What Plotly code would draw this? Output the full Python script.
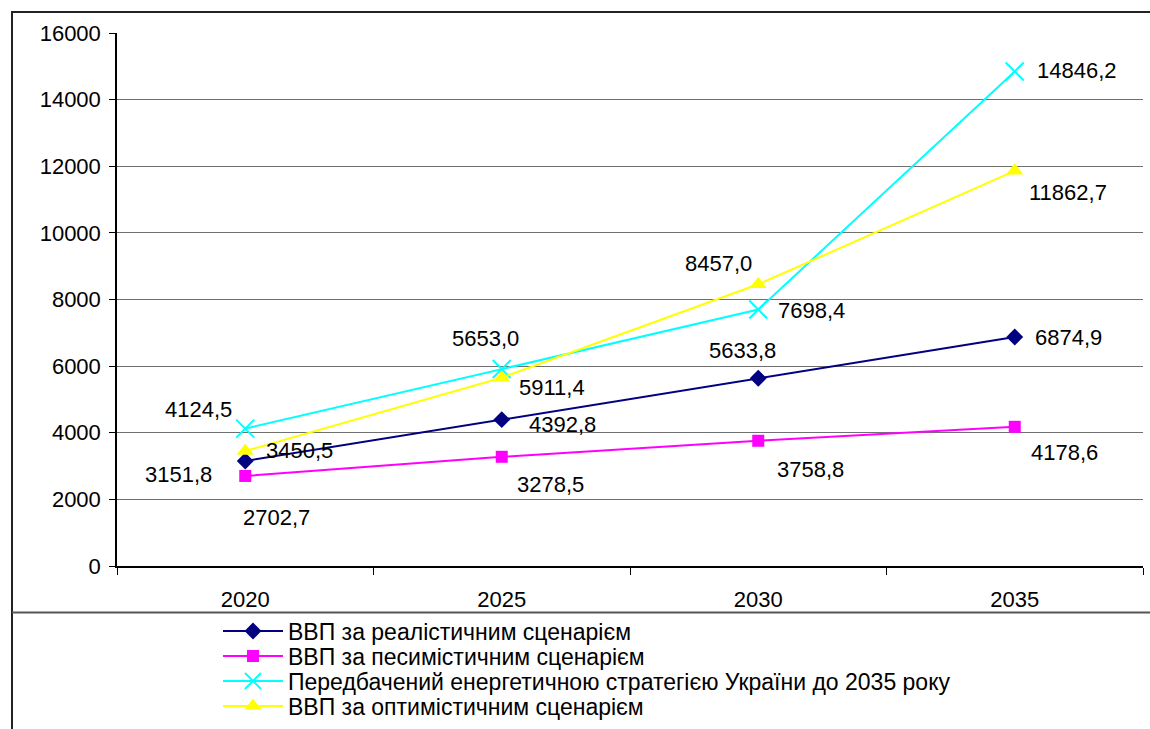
import plotly.graph_objects as go

# ---- data ----
years = ["2020", "2025", "2030", "2035"]
realistic = [3151.8, 4392.8, 5633.8, 6874.9]
pessimistic = [2702.7, 3278.5, 3758.8, 4178.6]
strategy = [4124.5, 5911.4, 7698.4, 14846.2]
optimistic = [3450.5, 5653.0, 8457.0, 11862.7]

names = [
    "ВВП за реалістичним сценарієм",
    "ВВП за песимістичним сценарієм",
    "Передбачений енергетичною стратегією України до 2035 року",
    "ВВП за оптимістичним сценарієм",
]
y_ticks = [0, 2000, 4000, 6000, 8000, 10000, 12000, 14000, 16000]

# ---- styles ----
FONT = "Liberation Sans, Arial, sans-serif"

series = [
    (realistic, names[0], "#000080", dict(symbol="diamond", size=13, color="#000080")),
    (pessimistic, names[1], "#FF00FF", dict(symbol="square", size=12, color="#FF00FF")),
    (strategy, names[2], "#00FFFF", dict(symbol="x-thin", size=18, color="#00FFFF",
                                          line=dict(color="#00FFFF", width=2))),
    (optimistic, names[3], "#FFFF00", dict(symbol="triangle-up", size=15, color="#FFFF00")),
]

# label pixel offsets (dx right, dy down) relative to the anchor marker
label_offsets = [
    [(-67, 13), (61, 5), (-16, -28), (54, 1)],
    [(31, 42), (49, 28), (52, 29), (50, 26)],
    [(-47, -19), (50, 10), (53, 1), (62, -1)],
    [(54, -1), (-16, -31), (-40, -21), (53, 22)],
]
# in the reference, the 2025 labels of the strategy and optimistic series sit at each other's marker
label_anchor_series = [
    [0, 0, 0, 0],
    [1, 1, 1, 1],
    [2, 3, 2, 2],
    [3, 2, 3, 3],
]

# frame / layout geometry
L, R, T, B = 117, 7, 33, 163
W, H = 1150, 729
pw, ph = W - L - R, H - T - B
def px(x):
    return (x - L) / pw
def py(y):
    return (H - B - y) / ph

legend_rows = [631, 656, 681, 706]

fig = go.Figure()
legend_ids = ["legend", "legend2", "legend3", "legend4"]
for k, (vals, name, color, marker) in enumerate(series):
    fig.add_trace(go.Scatter(
        x=years, y=vals, name=name, mode="lines+markers",
        line=dict(color=color, width=2), marker=marker,
        legend=legend_ids[k],
    ))

all_vals = [realistic, pessimistic, strategy, optimistic]
annotations = []
for si, vals in enumerate(all_vals):
    for i, v in enumerate(vals):
        anchor_vals = all_vals[label_anchor_series[si][i]]
        dx, dy = label_offsets[si][i]
        annotations.append(dict(
            x=i, y=anchor_vals[i], xref="x", yref="y",
            text=f"{v:.1f}".replace(".", ","), showarrow=False,
            xshift=dx, yshift=-dy, xanchor="center", yanchor="middle",
            font=dict(family=FONT, size=22, color="#000000"),
        ))

shapes = [
    dict(type="line", xref="paper", yref="paper", x0=px(12), x1=px(12), y0=py(11), y1=py(735),
         line=dict(color="#222222", width=2)),
    dict(type="line", xref="paper", yref="paper", x0=px(11), x1=px(1160), y0=py(12), y1=py(12),
         line=dict(color="#222222", width=2)),
    dict(type="line", xref="paper", yref="paper", x0=px(12), x1=px(1160), y0=py(612.5), y1=py(612.5),
         line=dict(color="#555555", width=2)),
]

legend_common = dict(
    xanchor="left", yanchor="middle", yref="container",
    font=dict(family=FONT, size=23, color="#000000"),
    bgcolor="rgba(0,0,0,0)", borderwidth=0, itemwidth=60,
)
layout_legends = {}
for k, lid in enumerate(legend_ids):
    layout_legends[lid] = dict(x=px(218), y=1 - legend_rows[k] / H, **legend_common)

fig.update_layout(
    width=W, height=H,
    margin=dict(l=L, r=R, t=T, b=B, pad=0, autoexpand=False),
    paper_bgcolor="white", plot_bgcolor="white",
    font=dict(family=FONT, size=22, color="#000000"),
    showlegend=True,
    annotations=annotations,
    shapes=shapes,
    xaxis=dict(
        type="category", showgrid=False, showline=True, linecolor="#000000", linewidth=1.5,
        ticks="outside", ticklen=7, tickcolor="#000000", tickson="boundaries",
        tickfont=dict(family=FONT, size=22), ticklabelstandoff=13,
        range=[-0.5, 3.5], zeroline=False, automargin=False,
    ),
    yaxis=dict(
        range=[0, 16000], tickvals=y_ticks, ticktext=[str(t) for t in y_ticks],
        showgrid=True, gridcolor="#707070", gridwidth=1,
        showline=True, linecolor="#000000", linewidth=1.5,
        ticks="outside", ticklen=6, tickcolor="#000000",
        tickfont=dict(family=FONT, size=22), ticklabelstandoff=4,
        zeroline=False, automargin=False,
    ),
    **layout_legends,
)

fig.write_html(
    "out.html",
    config={"displayModeBar": False},
    post_script="document.body.style.margin='0';document.body.style.overflow='hidden';",
)
